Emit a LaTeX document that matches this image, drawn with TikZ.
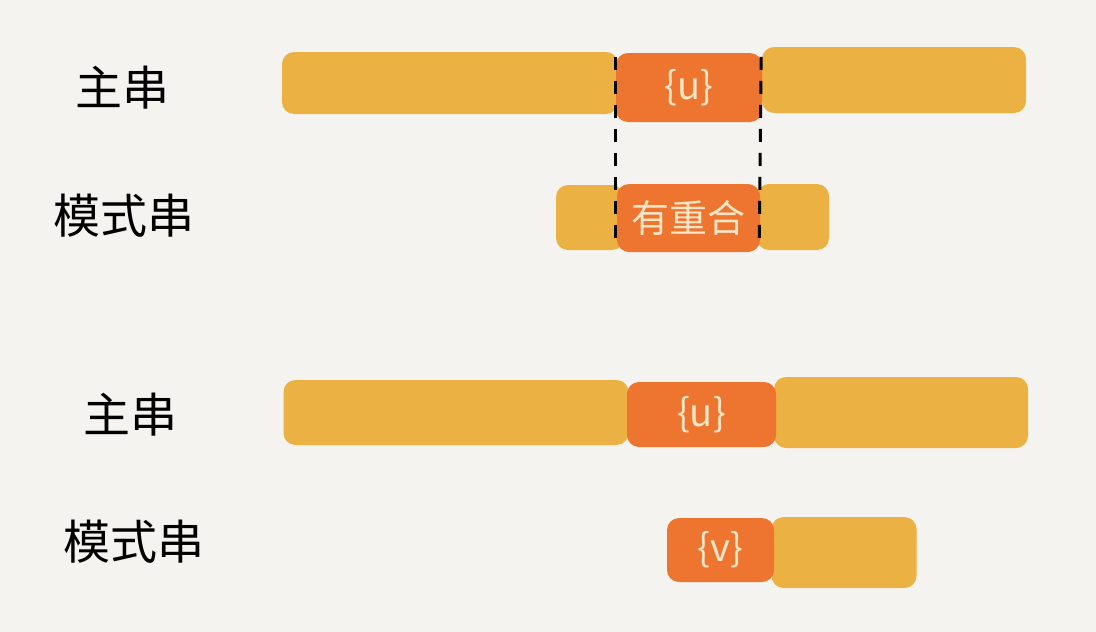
\documentclass[tikz,border=0pt]{standalone}
\usepackage{fontspec}
\newfontfamily\cjk{Noto Sans CJK SC}
\definecolor{bg}{HTML}{F4F3EF}
\definecolor{ybar}{HTML}{EBB142}
\definecolor{obar}{HTML}{EE7530}
\definecolor{cream}{HTML}{FAE5C6}
\tikzset{
  yb/.style={fill=ybar, draw=none, rounded corners=12pt, inner sep=0pt},
  ob/.style={fill=obar, draw=none, rounded corners=12pt, inner sep=0pt, text=cream, font=\cjk\fontsize{38}{40}\selectfont},
  lbl/.style={font=\cjk\fontsize{47}{49}\selectfont, text=black, inner sep=0pt},
  dashline/.style={draw=black, line width=3pt, dash pattern=on 13pt off 11pt}
}
\begin{document}
\begin{tikzpicture}[x=1pt,y=-1pt]
\fill[bg] (0,0) rectangle (1096,632);
\useasboundingbox (0,0) rectangle (1096,632);
% row 1
\node[yb, minimum width=336pt, minimum height=62pt] (y1a) at (450,83) {};
\node[yb, minimum width=264pt, minimum height=66pt] (y1b) at (894,80) {};
\node[ob, minimum width=146pt, minimum height=69pt] (o1) at (689,87.5) {\{u\}};
% row 2
\node[yb, minimum width=68pt, minimum height=65pt] (y2a) at (590,217.5) {};
\node[yb, minimum width=72pt, minimum height=66pt] (y2b) at (793,217) {};
\node[ob, minimum width=143pt, minimum height=68pt] (o2) at (688.5,218) {有重合};
% dashed lines
\draw[dashline] ([yshift=-4pt]o1.north west) -- ([yshift=6pt]o1.north west |- o2.south);
\draw[dashline] ([xshift=-1pt,yshift=-4pt]o1.north east) -- ([xshift=-3pt,yshift=6pt]o1.north east |- o2.south);
% row 3
\node[yb, minimum width=345pt, minimum height=65pt] (y3a) at (456,412.5) {};
\node[yb, minimum width=254pt, minimum height=71pt] (y3b) at (901,412.5) {};
\node[ob, minimum width=149pt, minimum height=65pt] (o3) at (701.5,414.5) {\{u\}};
% row 4
\node[yb, minimum width=145pt, minimum height=71pt] (y4b) at (844,552.5) {};
\node[ob, minimum width=107pt, minimum height=64pt] (o4) at (720.5,550) {\{v\}};
% labels
\node[lbl] (l1) at (122,88) {主串};
\node[lbl] (l2) at (124,216) {模式串};
\node[lbl] (l3) at (130,415) {主串};
\node[lbl] (l4) at (134,542) {模式串};
\end{tikzpicture}
\end{document}
